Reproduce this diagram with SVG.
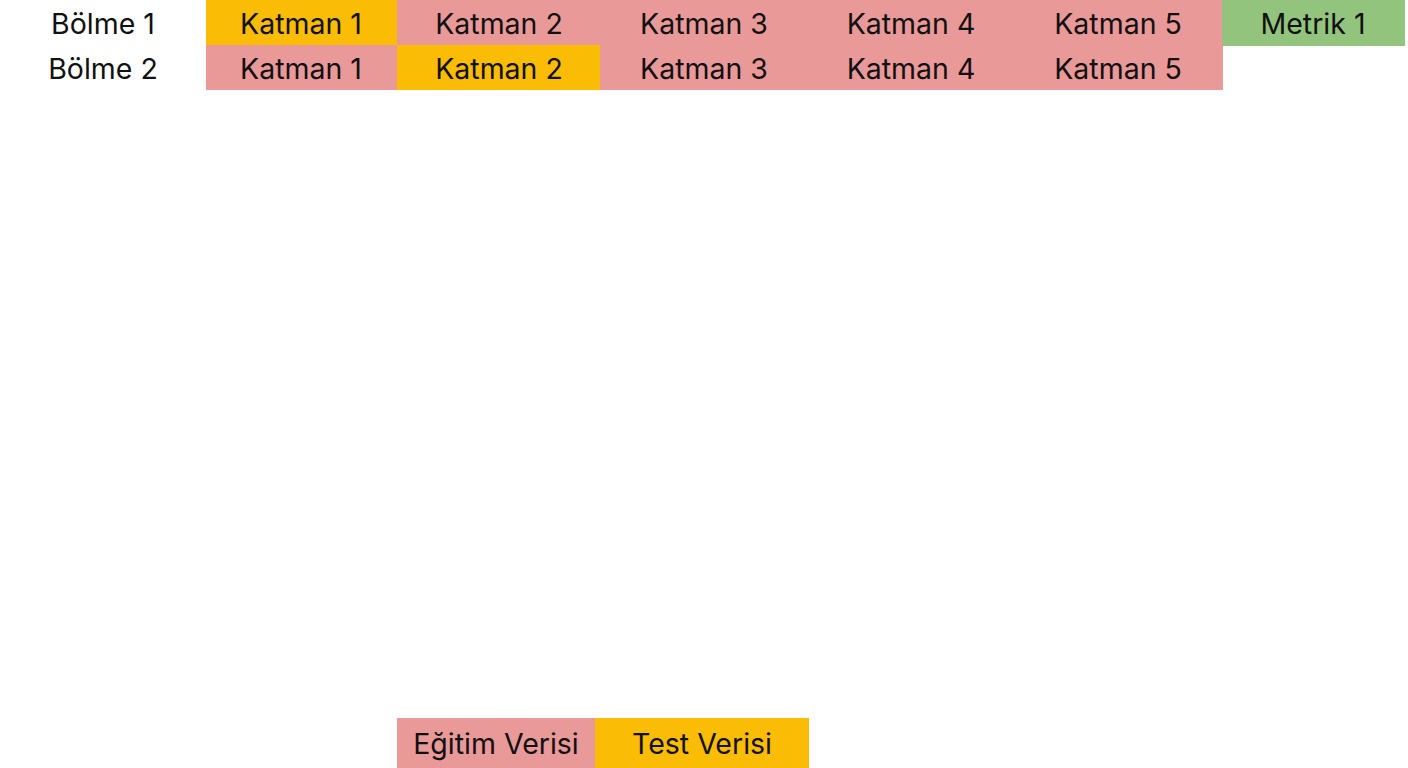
<svg xmlns="http://www.w3.org/2000/svg" width="1408" height="768" viewBox="0 0 1408 768">
<style>
text{font-family:"Inter","Noto Sans","Liberation Sans",sans-serif;font-size:28.5px;fill:#111;text-anchor:middle;dominant-baseline:central}
.y{fill:#FBBC05}.p{fill:#EA9999}.g{fill:#93C47D}
</style>
<rect width="1408" height="768" fill="#ffffff"/>
<g id="row1">
<text x="103" y="23">Bölme 1</text>
<g id="r1c1"><rect class="y" x="206" y="0" width="191" height="45"/><text x="301" y="23">Katman 1</text></g>
<g id="r1c2"><rect class="p" x="397" y="0" width="203" height="45"/><text x="499" y="23">Katman 2</text></g>
<g id="r1c3"><rect class="p" x="600" y="0" width="208" height="45"/><text x="704" y="23">Katman 3</text></g>
<g id="r1c4"><rect class="p" x="808" y="0" width="207" height="45"/><text x="911" y="23">Katman 4</text></g>
<g id="r1c5"><rect class="p" x="1015" y="0" width="208" height="45"/><text x="1118" y="23">Katman 5</text></g>
<g id="r1m"><rect class="g" x="1222" y="0" width="183" height="46"/><text x="1313" y="23">Metrik 1</text></g>
</g>
<g id="row2">
<text x="103" y="68">Bölme 2</text>
<g id="r2c1"><rect class="p" x="206" y="45" width="191" height="45"/><text x="301" y="68">Katman 1</text></g>
<g id="r2c2"><rect class="y" x="397" y="45" width="203" height="45"/><text x="499" y="68">Katman 2</text></g>
<g id="r2c3"><rect class="p" x="600" y="45" width="208" height="45"/><text x="704" y="68">Katman 3</text></g>
<g id="r2c4"><rect class="p" x="808" y="45" width="207" height="45"/><text x="911" y="68">Katman 4</text></g>
<g id="r2c5"><rect class="p" x="1015" y="45" width="208" height="45"/><text x="1118" y="68">Katman 5</text></g>
</g>
<g id="legend">
<g id="train"><rect class="p" x="397" y="718" width="198" height="50"/><text x="496" y="743">Eğitim Verisi</text></g>
<g id="test"><rect class="y" x="595" y="718" width="214" height="50"/><text x="702" y="743">Test Verisi</text></g>
</g>
<g id="connectors"/>
</svg>
